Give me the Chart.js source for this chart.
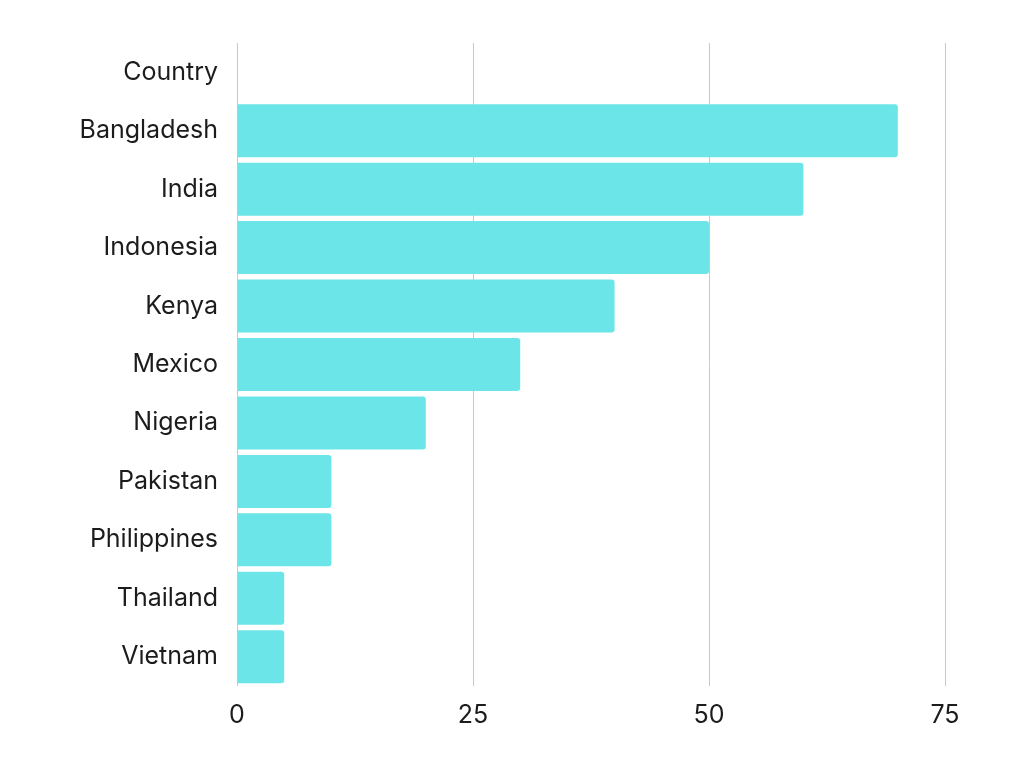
<!DOCTYPE html>
<html>

<head>
    <title>Country Bar Chart</title>
    <script src="https://cdn.jsdelivr.net/npm/chart.js"></script>
    <style>
        html,
        body {
            margin: 0;
            padding: 0;
            background: #ffffff;
        }

        #wrap {
            width: 1024px;
            height: 768px;
        }
    </style>
</head>

<body>
    <div id="wrap">
        <canvas id="myChart"></canvas>
    </div>

    <script>
        // Chart data
        const categories = ['Country', 'Bangladesh', 'India', 'Indonesia', 'Kenya', 'Mexico', 'Nigeria', 'Pakistan', 'Philippines', 'Thailand', 'Vietnam'];
        const values = [null, 70, 60, 50, 40, 30, 20, 10, 10, 5, 5];
        const xTicks = [0, 25, 50, 75];

        const ctx = document.getElementById('myChart').getContext('2d');

        const myChart = new Chart(ctx, {
            type: 'bar',
            data: {
                labels: categories,
                datasets: [{
                    data: values,
                    backgroundColor: '#6ce5e8',
                    borderRadius: 3,
                    barPercentage: 0.907,
                    categoryPercentage: 1
                }]
            },
            options: {
                indexAxis: 'y',
                responsive: true,
                maintainAspectRatio: false,
                animation: false,
                layout: {
                    padding: { top: 43, right: 79, bottom: 32, left: 0 }
                },
                plugins: {
                    legend: { display: false },
                    tooltip: { enabled: false }
                },
                scales: {
                    x: {
                        min: xTicks[0],
                        max: xTicks[xTicks.length - 1],
                        afterBuildTicks: function(scale) {
                            scale.ticks = xTicks.map(v => ({ value: v }));
                        },
                        afterFit: function(scale) {
                            scale.height = 50;
                        },
                        grid: {
                            color: '#c9c9c9',
                            lineWidth: 1,
                            drawTicks: false
                        },
                        border: { display: false },
                        ticks: {
                            padding: 14,
                            color: '#1c1c1c',
                            font: { family: 'Inter', size: 25 }
                        }
                    },
                    y: {
                        afterFit: function(scale) {
                            scale.width = 237;
                        },
                        grid: { display: false, drawTicks: false },
                        border: { display: false },
                        ticks: {
                            padding: 19,
                            color: '#1c1c1c',
                            font: { family: 'Inter', size: 25 }
                        }
                    }
                }
            }
        });
    </script>
</body>

</html>
